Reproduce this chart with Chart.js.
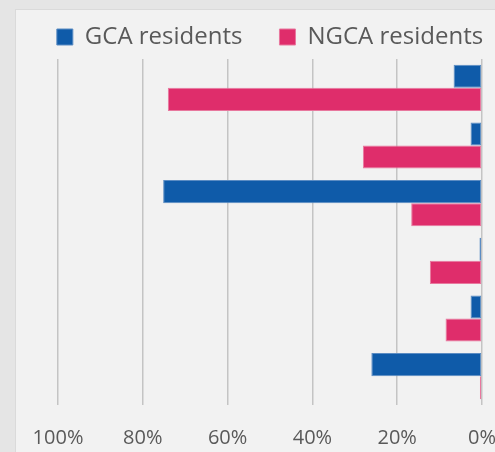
<!DOCTYPE html>
<html>
<head>
<meta charset="utf-8">
<script src="https://cdn.jsdelivr.net/npm/chart.js@4/dist/chart.umd.min.js"></script>
<style>
  html, body { margin: 0; padding: 0; width: 495px; height: 452px; overflow: hidden; background: #e5e5e5; }
  #panel { position: absolute; left: 15px; top: 9px; width: 520px; height: 470px; background: #f2f2f2; border-left: 1px solid #dadada; border-top: 1px solid #dadada; box-sizing: border-box; }
  #wrap { position: absolute; left: 0px; top: -12px; width: 520px; height: 483px; }
  canvas { display: block; }
</style>
</head>
<body>
<div id="panel"></div>
<div id="wrap"><canvas id="c" width="520" height="483"></canvas></div>
<script>
const categories = ["Category 1", "Category 2", "Category 3", "Category 4", "Category 5", "Category 6"];
const seriesNames = ["GCA residents", "NGCA residents"];
const gcaValues = [6.7, 2.7, 75.2, 0.6, 2.7, 26.1];
const ngcaValues = [74.1, 28.1, 16.7, 12.3, 8.6, 0.5];
const xTickValues = [0, 20, 40, 60, 80, 100];

const LEGEND_HEIGHT = 71;
const legendFitPlugin = {
  id: 'legendFit',
  afterInit(chart) {
    const lg = chart.legend;
    if (!lg) return;
    const origFit = lg.fit;
    lg.fit = function () { this.maxWidth = 2000; origFit.call(this); this.height = LEGEND_HEIGHT; };
    const origDraw = lg.draw;
    lg.draw = function () {
      const l = this.left, r = this.right;
      this.left = l - 200; this.right = r + 200;
      origDraw.call(this);
      this.left = l; this.right = r;
    };
  }
};

const ctx = document.getElementById('c').getContext('2d');
new Chart(ctx, {
  type: 'bar',
  data: {
    labels: categories,
    datasets: [
      { label: seriesNames[0], data: gcaValues, backgroundColor: '#0f5ba9', borderColor: '#5b8cc3', borderWidth: 1, borderSkipped: false },
      { label: seriesNames[1], data: ngcaValues, backgroundColor: '#df2d6b', borderColor: '#e8789e', borderWidth: 1, borderSkipped: false }
    ]
  },
  options: {
    indexAxis: 'y',
    responsive: false,
    animation: false,
    devicePixelRatio: 1,
    layout: { padding: { left: 58, right: 38, top: 0, bottom: 0 } },
    datasets: { bar: { categoryPercentage: 0.8, barPercentage: 1.0 } },
    plugins: {
      legend: {
        position: 'top',
        align: 'center',
        labels: {
          boxWidth: 16, boxHeight: 16, padding: 37,
          color: '#595959',
          font: { family: '"Open Sans", sans-serif', size: 24 }
        }
      },
      tooltip: { enabled: false }
    },
    scales: {
      x: {
        reverse: true,
        min: 0, max: 100,
        afterBuildTicks(axis) { axis.ticks = xTickValues.map(v => ({ value: v })); },
        grid: { color: '#c4c4c4', lineWidth: 1.5, drawTicks: false },
        border: { display: false },
        ticks: {
          padding: 21,
          color: '#595959',
          font: { family: '"Open Sans", sans-serif', size: 20 },
          callback: v => v + '%'
        }
      },
      y: {
        display: false,
        position: 'right'
      }
    }
  },
  plugins: [legendFitPlugin]
});
</script>
</body>
</html>
